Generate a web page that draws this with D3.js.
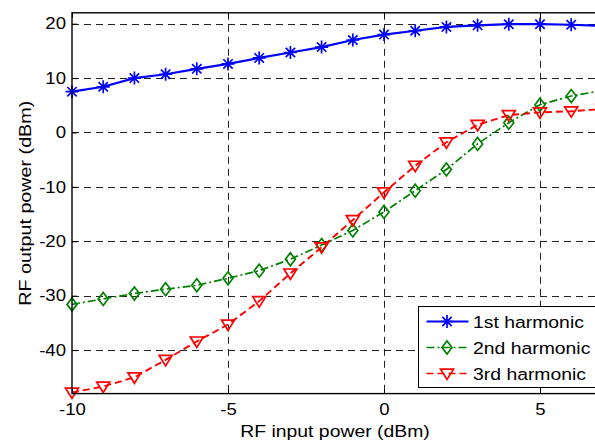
<!DOCTYPE html>
<html>
<head>
<meta charset="utf-8">
<script src="https://cdn.jsdelivr.net/npm/d3@7"></script>
<style>
  body { margin: 0; background: #fff; }
  svg { display: block; font-family: "Liberation Sans", Arial, sans-serif; }
</style>
</head>
<body>
<div id="chart"></div>
<script>
// values
var inputPower = [-10, -9, -8, -7, -6, -5, -4, -3, -2, -1, 0, 1, 2, 3, 4, 5, 6, 7];
var harm1 = [7.5, 8.4, 10.0, 10.7, 11.7, 12.6, 13.7, 14.7, 15.7, 17.0, 18.0, 18.7, 19.4, 19.7, 19.9, 19.9, 19.8, 19.6];
var harm2 = [-31.6, -30.6, -29.6, -28.8, -28.1, -26.8, -25.4, -23.3, -20.7, -18.0, -14.6, -10.7, -6.8, -2.1, 1.8, 5.1, 6.7, 7.7];
var harm3 = [-47.8, -46.7, -45.0, -41.8, -38.4, -35.3, -31.0, -25.9, -21.1, -16.1, -11.0, -6.1, -1.8, 1.4, 3.2, 3.7, 3.9, 4.3];
var xTicks = [-10, -5, 0, 5];
var yTicks = [-40, -30, -20, -10, 0, 10, 20];
var seriesNames = ["1st harmonic", "2nd harmonic", "3rd harmonic"];

var width = 595, height = 442;
var plotLeft = 72, plotRight = 602.4, plotTop = 12.8, plotBottom = 393.6;
var stretch = 1.14; // the original font runs wider than Arial

var svg = d3.select("#chart").append("svg")
    .attr("width", width)
    .attr("height", height);

var x = d3.scaleLinear().domain([-10, 7]).range([plotLeft, plotRight]);
var y = d3.scaleLinear().domain([-48, 22]).range([plotBottom, plotTop]);

// grid (snapped to pixel centres so the dashes stay dark)
var snap = v => Math.round(v) + 0.5;
var grid = svg.append("g");
grid.selectAll(".vg").data(xTicks.slice(1)).enter().append("line")
    .attr("x1", d => snap(x(d))).attr("x2", d => snap(x(d)))
    .attr("y1", plotTop).attr("y2", plotBottom)
    .attr("stroke", "#222").attr("stroke-width", 1)
    .attr("stroke-dasharray", "7,5");
grid.selectAll(".hg").data(yTicks).enter().append("line")
    .attr("x1", plotLeft).attr("x2", width)
    .attr("y1", d => snap(y(d))).attr("y2", d => snap(y(d)))
    .attr("stroke", "#222").attr("stroke-width", 1)
    .attr("stroke-dasharray", "7,5");

// marker shapes
function asterisk(r) {
    var a = r * 0.72;
    return "M" + (-r) + ",0L" + r + ",0M0," + (-r) + "L0," + r +
        "M" + (-a) + "," + (-a) + "L" + a + "," + a +
        "M" + (-a) + "," + a + "L" + a + "," + (-a);
}
function diamond(w, h) {
    return "M0," + (-h) + "L" + w + ",0L0," + h + "L" + (-w) + ",0Z";
}
function triDown(w, h) {
    return "M" + (-w) + "," + (-h * 0.55) + "L" + w + "," + (-h * 0.55) + "L0," + (h * 0.75) + "Z";
}

var series = [
    { name: seriesNames[0], values: harm1, color: "#0000ff", dash: null, width: 2.2, marker: asterisk(6.5), mw: 1.7 },
    { name: seriesNames[1], values: harm2, color: "#008000", dash: "8,3,2,3", width: 1.7, marker: diamond(5, 6.5), mw: 1.7 },
    { name: seriesNames[2], values: harm3, color: "#ff0000", dash: "7,4", width: 1.9, marker: triDown(6.5, 8), mw: 1.7 }
];

var line = d3.line()
    .x(d => x(d[0]))
    .y(d => y(d[1]));

series.forEach(function (s) {
    var pts = inputPower.map((p, i) => [p, s.values[i]]);
    svg.append("path")
        .attr("d", line(pts))
        .attr("fill", "none")
        .attr("stroke", s.color)
        .attr("stroke-width", s.width)
        .attr("stroke-dasharray", s.dash);
    svg.append("g").selectAll("path")
        .data(pts)
        .enter().append("path")
        .attr("transform", d => "translate(" + x(d[0]) + "," + y(d[1]) + ")")
        .attr("d", s.marker)
        .attr("fill", "none")
        .attr("stroke", s.color)
        .attr("stroke-width", s.mw);
});

// axes box
svg.append("rect")
    .attr("x", plotLeft).attr("y", plotTop)
    .attr("width", plotRight - plotLeft).attr("height", plotBottom - plotTop)
    .attr("fill", "none").attr("stroke", "#000").attr("stroke-width", 1.4);

// inward ticks, hyphen minus like the original
var fmt = d => String(d);
var xAxis = svg.append("g").attr("transform", "translate(0," + plotBottom + ")")
    .call(d3.axisBottom(x).tickValues(xTicks).tickSize(-5).tickPadding(12).tickFormat(fmt));
var yAxis = svg.append("g").attr("transform", "translate(" + plotLeft + ",0)")
    .call(d3.axisLeft(y).tickValues(yTicks).tickSize(-5).tickPadding(5.3).tickFormat(fmt));
svg.append("g").attr("transform", "translate(0," + plotTop + ")")
    .call(d3.axisTop(x).tickValues(xTicks).tickSize(-5).tickFormat(""));
svg.append("g").attr("transform", "translate(" + plotRight + ",0)")
    .call(d3.axisRight(y).tickValues(yTicks).tickSize(-5).tickFormat(""));
[xAxis, yAxis].forEach(function (a) {
    a.selectAll("text")
        .attr("font-size", 16.3)
        .attr("font-family", "Liberation Sans, Arial, sans-serif")
        .attr("fill", "#000")
        .attr("transform", "scale(" + stretch + ",1)");
});
svg.selectAll(".tick line").attr("stroke", "#000");
svg.selectAll(".domain").remove();
xAxis.selectAll("text").attr("dy", "0.6em");

// axis labels
svg.append("text")
    .attr("transform", "translate(335,436.5) scale(" + stretch + ",1)")
    .attr("text-anchor", "middle")
    .attr("font-size", 17)
    .text("RF input power (dBm)");
svg.append("text")
    .attr("transform", "translate(31," + ((plotTop + plotBottom) / 2) + ") rotate(-90) scale(1.16,1)")
    .attr("text-anchor", "middle")
    .attr("font-size", 17)
    .text("RF output power (dBm)");

// legend
var legend = svg.append("g");
legend.append("rect")
    .attr("x", 418.5).attr("y", 306.5)
    .attr("width", 200).attr("height", 81)
    .attr("fill", "#fff").attr("stroke", "#000").attr("stroke-width", 1);
var rowY = [321.5, 347.5, 373.5];
series.forEach(function (s, i) {
    legend.append("line")
        .attr("x1", 426.5).attr("x2", 468.5)
        .attr("y1", rowY[i]).attr("y2", rowY[i])
        .attr("stroke", s.color)
        .attr("stroke-width", s.width * 0.8)
        .attr("stroke-dasharray", s.dash);
    legend.append("path")
        .attr("transform", "translate(447," + rowY[i] + ")")
        .attr("d", s.marker)
        .attr("fill", "none")
        .attr("stroke", s.color)
        .attr("stroke-width", s.mw);
    legend.append("text")
        .attr("transform", "translate(473," + (rowY[i] + 6) + ") scale(" + stretch + ",1)")
        .attr("font-size", 17)
        .text(s.name);
});
</script>
</body>
</html>
